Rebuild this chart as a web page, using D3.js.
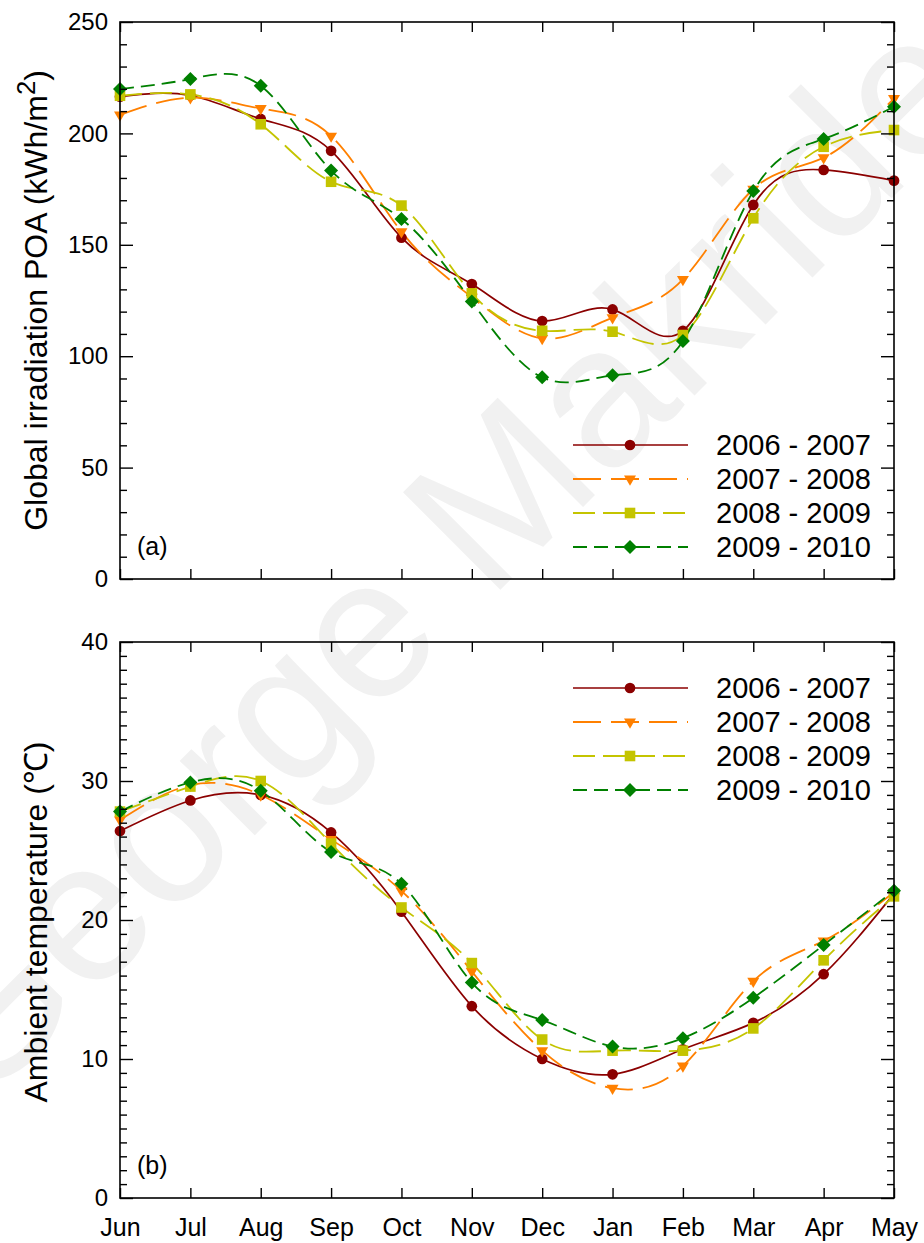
<!DOCTYPE html>
<html>
<head>
<meta charset="utf-8">
<script src="https://cdn.jsdelivr.net/npm/d3@7/dist/d3.min.js"></script>
<style>
  html, body { margin: 0; padding: 0; background: #fff; }
  svg { display: block; font-family: "Liberation Sans", Arial, sans-serif; }
</style>
</head>
<body>
<svg id="chart" width="924" height="1243"></svg>
<script>
// Monthly values, June to May
const months = ["Jun", "Jul", "Aug", "Sep", "Oct", "Nov", "Dec", "Jan", "Feb", "Mar", "Apr", "May"];
const seasons = ["2006 - 2007", "2007 - 2008", "2008 - 2009", "2009 - 2010"];

// Global irradiation in the plane of array (kWh/m2)
const irr2006 = [216.5, 217.0, 206.5, 192.2, 153.2, 132.4, 115.8, 121.0, 111.4, 167.9, 183.6, 178.8];
const irr2007 = [208.3, 216.0, 211.2, 198.8, 155.9, 126.5, 108.0, 117.3, 134.5, 175.0, 189.1, 215.7];
const irr2008 = [216.9, 217.5, 204.1, 178.3, 167.6, 128.2, 111.4, 111.0, 109.5, 161.9, 194.0, 201.5];
const irr2009 = [219.9, 224.4, 221.4, 183.3, 161.6, 124.5, 90.5, 91.4, 106.8, 174.1, 197.5, 212.0];

// Ambient temperature (°C)
const tmp2006 = [26.4, 28.6, 29.0, 26.3, 20.6, 13.8, 10.0, 8.9, 10.7, 12.6, 16.1, 21.9];
const tmp2007 = [27.2, 29.7, 29.0, 25.8, 22.1, 16.3, 10.6, 7.9, 9.5, 15.6, 18.5, 22.0];
const tmp2008 = [27.8, 29.6, 30.0, 25.5, 20.9, 16.9, 11.4, 10.6, 10.6, 12.2, 17.1, 21.7];
const tmp2009 = [27.8, 29.9, 29.3, 24.9, 22.6, 15.5, 12.8, 10.9, 11.5, 14.4, 18.2, 22.1];

const irrTicks = [0, 50, 100, 150, 200, 250];
const tmpTicks = [0, 10, 20, 30, 40];

const styles = [
  { color: "#8b0000", dash: null,     marker: "circle",   width: 1.7 },
  { color: "#ff8000", dash: "28,10",  marker: "triangle", width: 1.8 },
  { color: "#c4c400", dash: "22,8",   marker: "square",   width: 1.8 },
  { color: "#008000", dash: "14,7",   marker: "diamond",  width: 1.8 }
];

const svg = d3.select("#chart");

// faint watermark behind the plots
svg.append("text")
  .attr("transform", "translate(520,570) rotate(-45)")
  .attr("text-anchor", "middle")
  .attr("font-size", 200)
  .attr("fill", "#f1f1f1")
  .text("George Makrides");

const left = 120, right = 894;
const x = d3.scalePoint().domain(months).range([left, right]);

function markerPath(kind) {
  switch (kind) {
    case "circle":   return d3.symbol().type(d3.symbolCircle).size(90)();
    case "square":   return "M-5.3,-5.3H5.3V5.3H-5.3Z";
    case "diamond":  return "M0,-7L7,0L0,7L-7,0Z";
    case "triangle": return "M-6,-3.4L6,-3.4L0,6.8Z";
  }
}

function panel(cfg) {
  const y = d3.scaleLinear().domain([cfg.ticks[0], cfg.ticks[cfg.ticks.length - 1]]).range([cfg.bottom, cfg.top]);
  const g = svg.append("g");

  // series curves and markers
  cfg.series.forEach((vals, i) => {
    const st = styles[i];
    const line = d3.line().x((d, j) => x(months[j])).y(d => y(d)).curve(d3.curveNatural);
    g.append("path")
      .attr("d", line(vals))
      .attr("fill", "none")
      .attr("stroke", st.color)
      .attr("stroke-width", st.width)
      .attr("stroke-dasharray", st.dash);
  });
  cfg.series.forEach((vals, i) => {
    const st = styles[i];
    g.selectAll(null).data(vals).enter().append("path")
      .attr("transform", (d, j) => `translate(${x(months[j])},${y(d)})`)
      .attr("d", markerPath(st.marker))
      .attr("fill", st.color);
  });

  // inward ticks on all four sides
  const minor = d3.range(cfg.ticks[0], cfg.ticks[cfg.ticks.length - 1] + 1e-9, cfg.minorStep)
    .filter(v => !cfg.ticks.includes(v));

  const axL = g.append("g").attr("transform", `translate(${left},0)`)
    .call(d3.axisLeft(y).tickValues(cfg.ticks).tickSizeInner(-13).tickSizeOuter(0).tickPadding(12).tickFormat(d3.format("d")));
  g.append("g").attr("transform", `translate(${left},0)`)
    .call(d3.axisLeft(y).tickValues(minor).tickSizeInner(-7).tickSizeOuter(0).tickFormat(""));
  g.append("g").attr("transform", `translate(${right},0)`)
    .call(d3.axisRight(y).tickValues(cfg.ticks).tickSizeInner(-13).tickSizeOuter(0).tickFormat(""));
  g.append("g").attr("transform", `translate(${right},0)`)
    .call(d3.axisRight(y).tickValues(minor).tickSizeInner(-7).tickSizeOuter(0).tickFormat(""));
  g.append("g").attr("transform", `translate(0,${cfg.top})`)
    .call(d3.axisTop(x).tickSizeInner(-10).tickSizeOuter(0).tickFormat(""));
  const axB = g.append("g").attr("transform", `translate(0,${cfg.bottom})`)
    .call(d3.axisBottom(x).tickSizeInner(-10).tickSizeOuter(0).tickPadding(20));
  if (!cfg.showMonths) axB.selectAll("text").remove();

  g.selectAll(".domain").remove();
  g.selectAll(".tick line").attr("stroke", "#000").attr("stroke-width", 1.4);
  axL.selectAll("text").attr("font-size", 24).attr("fill", "#000").attr("font-family", "Liberation Sans, Arial, sans-serif");
  axB.selectAll("text").attr("font-size", 25).attr("fill", "#000").attr("font-family", "Liberation Sans, Arial, sans-serif");

  // frame
  g.append("rect")
    .attr("x", left).attr("y", cfg.top)
    .attr("width", right - left).attr("height", cfg.bottom - cfg.top)
    .attr("fill", "none").attr("stroke", "#000").attr("stroke-width", 1.6);

  // panel tag
  g.append("text").attr("x", 137).attr("y", cfg.bottom - 24)
    .attr("font-size", 25).text(cfg.tag);

  // axis title
  const t = g.append("text")
    .attr("transform", `translate(${cfg.titleX},${(cfg.top + cfg.bottom) / 2 + cfg.titleShift}) rotate(-90)`)
    .attr("text-anchor", "middle")
    .attr("font-size", 32);
  cfg.title(t);

  // legend
  const lg = g.append("g");
  seasons.forEach((name, i) => {
    const st = styles[i];
    const ly = cfg.legendY + i * 34;
    lg.append("line")
      .attr("x1", 573).attr("x2", 688).attr("y1", ly).attr("y2", ly)
      .attr("stroke", st.color).attr("stroke-width", st.width)
      .attr("stroke-dasharray", st.dash);
    lg.append("path")
      .attr("transform", `translate(630,${ly})`)
      .attr("d", markerPath(st.marker))
      .attr("fill", st.color);
    lg.append("text")
      .attr("x", 716).attr("y", ly).attr("dy", "0.36em")
      .attr("font-size", 29).text(name);
  });
}

panel({
  top: 22, bottom: 579, ticks: irrTicks, minorStep: 10,
  series: [irr2006, irr2007, irr2008, irr2009],
  tag: "(a)", legendY: 445, showMonths: false, titleX: 47, titleShift: 0,
  title: t => {
    t.append("tspan").text("Global irradiation POA (kWh/m");
    t.append("tspan").attr("dy", "-0.45em").attr("font-size", "0.8em").text("2");
    t.append("tspan").attr("dy", "0.36em").text(")");
  }
});

panel({
  top: 642, bottom: 1198, ticks: tmpTicks, minorStep: 1,
  series: [tmp2006, tmp2007, tmp2008, tmp2009],
  tag: "(b)", legendY: 688, showMonths: true, titleX: 47, titleShift: 2,
  title: t => { t.text("Ambient temperature (℃)"); }
});
</script>
</body>
</html>
